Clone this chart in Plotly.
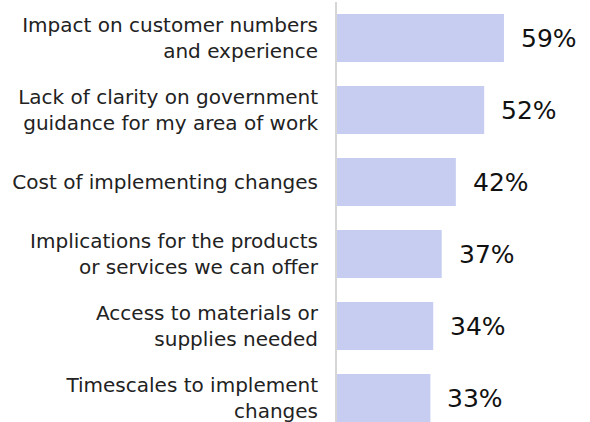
import plotly.graph_objects as go

categories = [
    "Impact on customer numbers<br>and experience",
    "Lack of clarity on government<br>guidance for my area of work",
    "Cost of implementing changes",
    "Implications for the products<br>or services we can offer",
    "Access to materials or<br>supplies needed",
    "Timescales to implement<br>changes",
]
values = [59, 52, 42, 37, 34, 33]
value_labels = ["59%", "52%", "42%", "37%", "34%", "33%"]

FONT = "DejaVu Sans"

fig = go.Figure()
fig.add_trace(go.Bar(
    x=values, y=categories, orientation="h",
    marker=dict(color="#c6cdf1", line=dict(width=0)),
    hoverinfo="skip",
))

for v, c, t in zip(values, categories, value_labels):
    fig.add_annotation(x=v, y=c, text=t, showarrow=False, xanchor="left",
                       xshift=15, font=dict(size=25, color="#111111", family=FONT))

fig.update_layout(
    width=590, height=422,
    margin=dict(l=337, r=0, t=2, b=0),
    paper_bgcolor="white", plot_bgcolor="white",
    bargap=0.333,
    showlegend=False,
    font=dict(family=FONT, color="#222222"),
    xaxis=dict(range=[0, 89.4], visible=False, fixedrange=True, automargin=False),
    yaxis=dict(
        type="category",
        range=[5.333, -0.5],
        automargin=False,
        fixedrange=True,
        showline=True, linecolor="#d6d6d6", linewidth=2,
        showgrid=False, zeroline=False,
        ticks="outside", ticklen=13, tickcolor="rgba(0,0,0,0)",
        tickfont=dict(size=20, family=FONT, color="#222222"),
    ),
)

fig.write_html("out.html", config={"displayModeBar": False},
               post_script="document.body.style.margin='0';document.body.style.overflow='hidden';")
